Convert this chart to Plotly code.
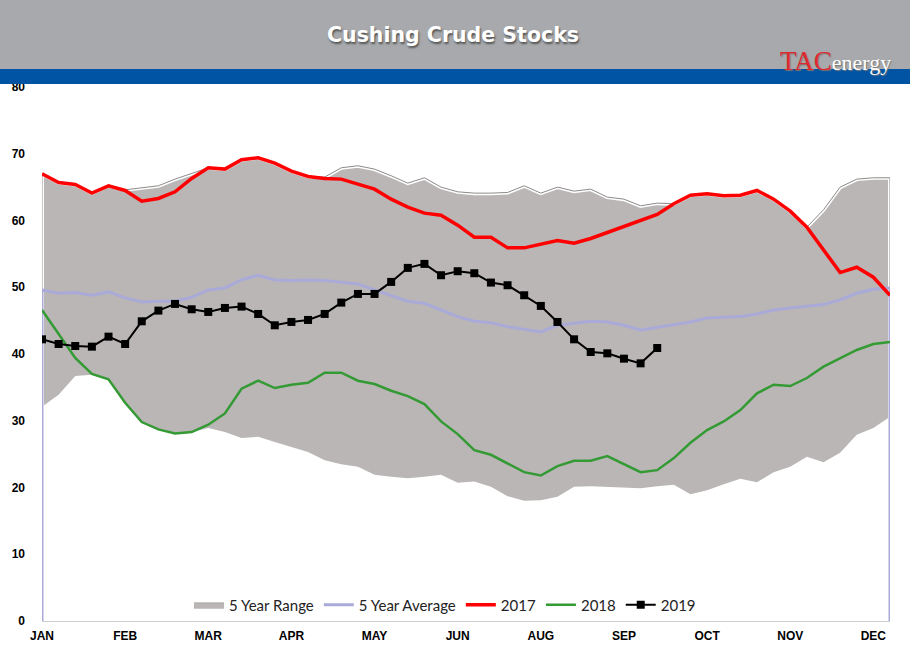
import plotly.graph_objects as go

# weekly data, 52 weeks
WEEKS = list(range(52))
MONTH_TICKS = [0, 5, 10, 15, 20, 25, 30, 35, 40, 45, 50]
MONTH_LABELS = ["JAN", "FEB", "MAR", "APR", "MAY", "JUN", "AUG", "SEP", "OCT", "NOV", "DEC"]

RANGE_MIN = [32.1, 33.9, 36.7, 36.9, 36.2, 32.7, 29.8, 28.7, 28.1, 28.3,
             28.9, 28.3, 27.4, 27.6, 26.8, 26.1, 25.3, 24.1, 23.5, 23.1,
             21.9, 21.6, 21.4, 21.6, 21.9, 20.7, 20.9, 20.1, 18.7, 18.0,
             18.1, 18.6, 20.1, 20.2, 20.1, 20.1, 19.9, 20.2, 20.4, 19.0,
             19.6, 20.5, 21.3, 20.8, 22.3, 23.1, 24.6, 23.8, 25.2, 27.9,
             28.9, 30.6]
RANGE_MAX = [67.0, 65.7, 65.4, 64.1, 65.2, 64.6, 64.9, 65.2, 66.2, 67.1,
             67.9, 67.7, 69.1, 69.4, 68.6, 67.4, 66.6, 66.5, 67.9, 68.2,
             67.7, 66.7, 65.6, 66.4, 65.0, 64.3, 64.1, 64.1, 64.2, 65.2,
             64.1, 65.0, 64.4, 64.7, 63.5, 63.2, 62.2, 62.6, 62.5, 63.8,
             64.0, 63.7, 63.8, 64.5, 63.2, 61.4, 59.0, 61.6, 65.0, 66.2,
             66.4, 66.4]
AVG_5Y = [49.6, 49.1, 49.2, 48.8, 49.3, 48.4, 47.8, 47.9, 47.9, 48.5,
          49.6, 49.9, 51.1, 51.8, 51.1, 51.0, 51.1, 51.0, 50.8, 50.5,
          49.6, 48.8, 47.9, 47.6, 46.6, 45.6, 44.9, 44.7, 44.1, 43.7,
          43.3, 44.3, 44.6, 44.9, 44.8, 44.3, 43.6, 44.0, 44.3, 44.8,
          45.4, 45.5, 45.6, 46.0, 46.6, 46.9, 47.1, 47.4, 48.1, 49.1,
          49.7, 49.9]
Y2017 = [67.0, 65.7, 65.4, 64.1, 65.2, 64.5, 62.9, 63.3, 64.3, 66.3,
         67.9, 67.7, 69.1, 69.4, 68.6, 67.4, 66.6, 66.3, 66.2, 65.5,
         64.7, 63.2, 62.0, 61.1, 60.8, 59.3, 57.5, 57.5, 55.9, 55.9,
         56.4, 57.0, 56.6, 57.3, 58.2, 59.1, 59.9, 60.9, 62.5, 63.8,
         64.0, 63.7, 63.8, 64.5, 63.2, 61.4, 59.0, 55.7, 52.2, 53.0,
         51.5, 48.8]
Y2018 = [46.6, 43.0, 39.4, 37.0, 36.2, 32.7, 29.8, 28.7, 28.1, 28.3,
         29.4, 31.1, 34.8, 36.0, 34.9, 35.4, 35.7, 37.2, 37.2, 36.0,
         35.5, 34.5, 33.7, 32.5, 29.9, 28.0, 25.6, 24.9, 23.6, 22.3,
         21.8, 23.2, 24.0, 24.0, 24.7, 23.5, 22.3, 22.6, 24.4, 26.7,
         28.6, 29.9, 31.6, 34.1, 35.4, 35.2, 36.4, 38.1, 39.4, 40.6,
         41.5, 41.8]
Y2019 = [42.2, 41.5, 41.2, 41.1, 42.6, 41.5, 44.9, 46.5, 47.5, 46.7,
         46.3, 46.9, 47.1, 46.0, 44.3, 44.8, 45.1, 46.0, 47.7, 49.0,
         49.0, 50.8, 52.9, 53.5, 51.8, 52.4, 52.1, 50.7, 50.3, 48.8,
         47.2, 44.8, 42.2, 40.3, 40.1, 39.3, 38.6, 40.9]

# pixel frame of the plot area in the 910x659 page
W, H = 910, 659
L, R, T, B = 42, 20, 87, 38
PW, PH = W - L - R, H - T - B


def px_x(v):
    return (v - L) / PW


def px_y(v):
    return (H - B - v) / PH


# series edges drop to zero at both ends, as in the source chart
edge_x = [WEEKS[0]] + WEEKS + [WEEKS[-1]]

fig = go.Figure()
fig.add_trace(go.Scatter(
    x=WEEKS, y=RANGE_MIN, mode="lines", line=dict(width=0, color="#BAB6B6"),
    showlegend=False, hoverinfo="skip",
))
fig.add_trace(go.Scatter(
    x=WEEKS, y=RANGE_MAX, mode="lines", fill="tonexty", fillcolor="#BAB6B6",
    line=dict(width=0.5, color="#8E8A8A"), name="5 Year Range",
))
fig.add_trace(go.Scatter(
    x=edge_x, y=[0] + RANGE_MAX + [0], mode="lines",
    line=dict(width=4, color="#FFFFFF"), showlegend=False, hoverinfo="skip",
))
fig.add_trace(go.Scatter(
    x=edge_x, y=[0] + RANGE_MAX + [0], mode="lines",
    line=dict(width=1, color="#8E8A8A"), showlegend=False, hoverinfo="skip",
))
fig.add_trace(go.Scatter(
    x=edge_x, y=[0] + AVG_5Y + [0], mode="lines",
    line=dict(width=3, color="#A9AAD8"), name="5 Year Average",
))
fig.add_trace(go.Scatter(
    x=WEEKS, y=Y2017, mode="lines", line=dict(width=3.5, color="#FF0000"), name="2017",
))
fig.add_trace(go.Scatter(
    x=WEEKS, y=Y2018, mode="lines", line=dict(width=2.5, color="#349A34"), name="2018",
))
fig.add_trace(go.Scatter(
    x=WEEKS[:len(Y2019)], y=Y2019, mode="lines+markers",
    line=dict(width=2, color="#000000"),
    marker=dict(symbol="square", size=8, color="#000000"), name="2019",
))

# header bands
fig.add_shape(type="rect", xref="paper", yref="paper", layer="above",
              x0=px_x(0), x1=px_x(W), y0=px_y(69), y1=px_y(0),
              fillcolor="#A7A9AC", line=dict(width=0))
fig.add_shape(type="rect", xref="paper", yref="paper", layer="above",
              x0=px_x(0), x1=px_x(W), y0=px_y(84), y1=px_y(69),
              fillcolor="#0054A3", line=dict(width=0))

fig.add_annotation(
    text="Cushing Crude Stocks", xref="paper", yref="paper",
    x=px_x(453), y=px_y(35), xanchor="center", yanchor="middle", showarrow=False,
    font=dict(family="DejaVu Sans", size=20.5, color="white", weight="bold",
              shadow="1px 2px 2px #555"),
)
fig.add_annotation(
    text="<span style='color:#E0282E;font-size:27px'>TAC</span>"
         "<span style='color:#FFFFFF'>energy</span>",
    xref="paper", yref="paper", x=px_x(893), y=px_y(61),
    xanchor="right", yanchor="middle", showarrow=False,
    font=dict(family="Liberation Serif", size=22, color="#E0282E",
              shadow="1px 1px 1px #777"),
)

fig.update_layout(
    width=W, height=H,
    margin=dict(l=L, r=R, t=T, b=B),
    paper_bgcolor="white",
    plot_bgcolor="white",
    showlegend=True,
    legend=dict(
        orientation="h", traceorder="normal",
        x=px_x(445), y=px_y(605), xanchor="center", yanchor="middle",
        font=dict(family="Lato", size=15, color="#222222"),
        bgcolor="rgba(0,0,0,0)", itemwidth=30,
    ),
    xaxis=dict(
        range=[0, 51], tickvals=MONTH_TICKS, ticktext=MONTH_LABELS,
        showgrid=False, zeroline=False, showline=True, linecolor="#D0D0D0",
        tickfont=dict(family="Liberation Sans", size=12, color="black", weight="bold"),
        ticklabelstandoff=4,
    ),
    yaxis=dict(
        range=[0, 80], dtick=10, showgrid=False, zeroline=False, showline=False,
        tickfont=dict(family="Liberation Sans", size=12, color="black", weight="bold"),
        ticklabelstandoff=16,
    ),
)

# the page body keeps an 8px margin by default; drop it so the figure sits at 0,0
fig.write_html("out.html", config={"displayModeBar": False},
               post_script="document.body.style.margin='0';")
